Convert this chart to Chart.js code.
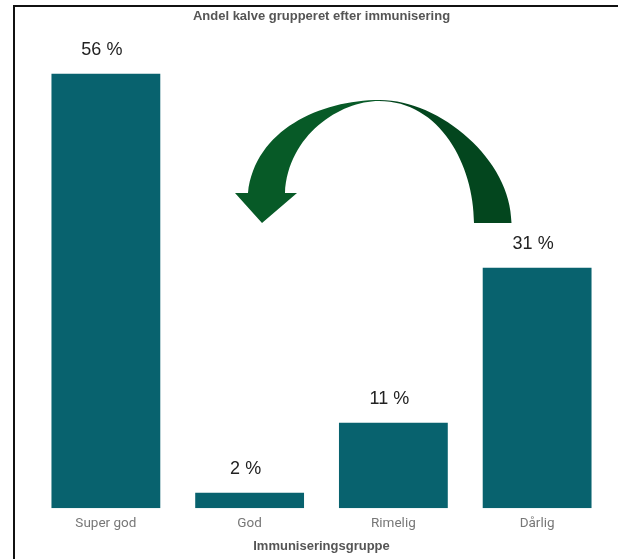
<!DOCTYPE html>
<html>
<head>
<meta charset="utf-8">
<script src="https://cdn.jsdelivr.net/npm/chart.js@4/dist/chart.umd.min.js"></script>
<style>
  html, body { margin: 0; padding: 0; background: #fff; }
  #wrap { position: relative; width: 618px; height: 559px; }
  #frame {
    position: absolute; left: 13px; top: 5px; right: 0; bottom: 0;
    border-left: 2px solid #111; border-top: 2px solid #111;
    pointer-events: none;
  }
</style>
</head>
<body>
<div id="wrap">
  <canvas id="myChart" width="618" height="559"></canvas>
  <div id="frame"></div>
</div>
<script>
const groups = ['Super god', 'God', 'Rimelig', 'Dårlig'];
const shares = [56, 2, 11, 31];

const barColor = '#08626e';

// percent text over each bar
const valueLabels = {
    id: 'valueLabels',
    afterDatasetsDraw(chart) {
        const ctx = chart.ctx;
        const meta = chart.getDatasetMeta(0);
        ctx.save();
        ctx.font = '18px "Liberation Sans", Arial, sans-serif';
        ctx.fillStyle = '#222';
        ctx.textAlign = 'center';
        ctx.textBaseline = 'middle';
        meta.data.forEach((bar, i) => {
            ctx.fillText(shares[i] + ' %', bar.x - 4, bar.y - 24);
        });
        ctx.restore();
    }
};

// curved arrow from the right-hand bar back over towards the left
const bigArrow = {
    id: 'bigArrow',
    afterDraw(chart) {
        const ctx = chart.ctx;
        ctx.save();
        const grad = ctx.createLinearGradient(235, 0, 512, 0);
        const split = (380 - 235) / (512 - 235);
        grad.addColorStop(0, '#075a27');
        grad.addColorStop(split, '#075a27');
        grad.addColorStop(split, '#03461e');
        grad.addColorStop(1, '#03461e');
        ctx.fillStyle = grad;
        ctx.beginPath();
        ctx.moveTo(511.5, 223);
        ctx.lineTo(474, 223);
        ctx.bezierCurveTo(474, 165, 440, 101, 379, 101);
        ctx.bezierCurveTo(340, 101, 288, 135, 285, 193);
        ctx.lineTo(297, 193);
        ctx.lineTo(262, 223);
        ctx.lineTo(235, 193);
        ctx.lineTo(248, 193);
        ctx.bezierCurveTo(255, 130, 320, 100, 380, 100);
        ctx.bezierCurveTo(440, 100, 511.5, 160, 511.5, 223);
        ctx.closePath();
        ctx.fill();
        ctx.restore();
    }
};

const ctx = document.getElementById('myChart').getContext('2d');
const myChart = new Chart(ctx, {
    type: 'bar',
    data: {
        labels: groups,
        datasets: [{
            data: shares,
            backgroundColor: barColor,
            categoryPercentage: 1,
            barPercentage: 0.757
        }]
    },
    options: {
        responsive: false,
        animation: false,
        layout: { padding: { left: 34, right: 9, top: 0, bottom: 2 } },
        plugins: {
            legend: { display: false },
            tooltip: { enabled: false },
            title: {
                display: true,
                text: 'Andel kalve grupperet efter immunisering',
                color: '#555',
                font: { family: '"Liberation Sans", Arial, sans-serif', size: 13, weight: 'bold' },
                padding: { top: 9, bottom: 18 }
            }
        },
        scales: {
            x: {
                grid: { display: false, drawTicks: false, tickLength: 0 },
                border: { display: false },
                ticks: {
                    color: '#777',
                    padding: 7,
                    font: { family: 'Roboto, "Liberation Sans", sans-serif', size: 13.5 }
                },
                title: {
                    display: true,
                    text: 'Immuniseringsgruppe',
                    color: '#555',
                    padding: { top: 0, bottom: 3 },
                    font: { family: '"Liberation Sans", Arial, sans-serif', size: 13, weight: 'bold' }
                }
            },
            y: {
                display: false,
                min: 0,
                max: 60
            }
        }
    },
    plugins: [valueLabels, bigArrow]
});
</script>
</body>
</html>
